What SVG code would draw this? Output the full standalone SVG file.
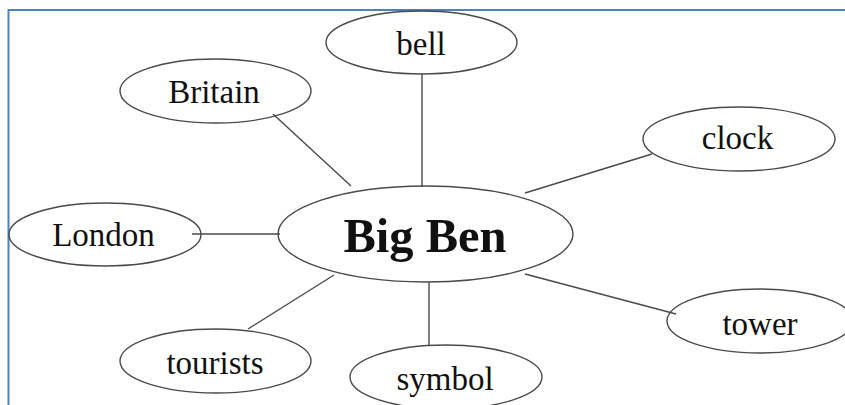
<svg xmlns="http://www.w3.org/2000/svg" width="845" height="405" viewBox="0 0 845 405">
<style>
.n ellipse{fill:none;stroke:#4a4a4a;stroke-width:1.4}
.n text{font-family:"Liberation Serif","Times New Roman",serif;font-size:33px;fill:#111;text-anchor:middle}
#c line{stroke:#4a4a4a;stroke-width:1.4}
</style>
<rect x="0" y="0" width="845" height="405" fill="#fff"/>
<path d="M8.5 405 V10 H845" fill="none" stroke="#4f81bd" stroke-width="2"/>
<g id="c">
<line x1="273" y1="114" x2="351" y2="186"/>
<line x1="422" y1="74" x2="422" y2="187"/>
<line x1="525" y1="193" x2="652" y2="154"/>
<line x1="192" y1="234" x2="280" y2="234"/>
<line x1="334" y1="275" x2="248" y2="329"/>
<line x1="429" y1="282" x2="429" y2="346"/>
<line x1="525" y1="274" x2="676" y2="314"/>
</g>
<g id="bigben" class="n"><ellipse cx="425.5" cy="234" rx="147.5" ry="48"/><text x="425" y="252" style="font-weight:bold;font-size:48.5px">Big Ben</text></g>
<g id="bell" class="n"><ellipse cx="421.5" cy="42.5" rx="95.5" ry="31.5"/><text x="421" y="55">bell</text></g>
<g id="britain" class="n"><ellipse cx="215.5" cy="91" rx="95.5" ry="32"/><text x="214" y="103">Britain</text></g>
<g id="clock" class="n"><ellipse cx="739" cy="139" rx="96" ry="32"/><text x="737.5" y="149">clock</text></g>
<g id="london" class="n"><ellipse cx="105" cy="234.5" rx="96" ry="31.5"/><text x="103.5" y="246">London</text></g>
<g id="tourists" class="n"><ellipse cx="215.5" cy="361" rx="95.5" ry="32"/><text x="215" y="374">tourists</text></g>
<g id="symbol" class="n"><ellipse cx="446" cy="377" rx="96" ry="32"/><text x="445" y="390">symbol</text></g>
<g id="tower" class="n"><ellipse cx="760" cy="321" rx="93" ry="32"/><text x="760" y="335">tower</text></g>
</svg>
